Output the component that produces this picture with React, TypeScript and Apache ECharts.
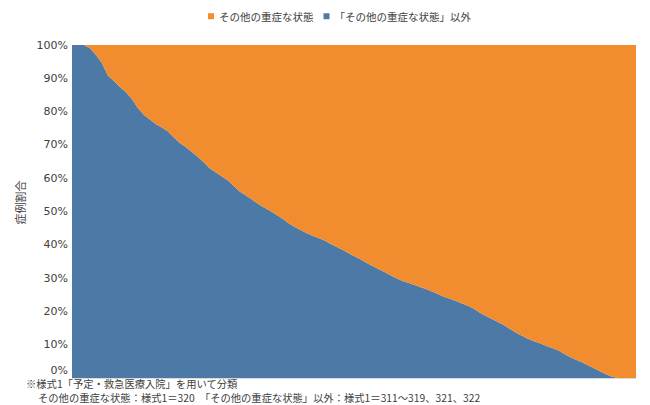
import { useEffect, useRef } from 'react';
import * as echarts from 'echarts';

// 病院ごとの「その他の重症な状態」以外の割合（%）、降順
const otherShare: number[] = [
  100, 100, 100, 99.0, 97.0, 94.5, 90.8, 89.2, 87.4, 85.8,
  83.8, 81.0, 79.0, 77.6, 76.2, 75.2, 74.0, 72.2, 70.6, 69.3,
  67.9, 66.4, 64.7, 62.9, 61.7, 60.5, 59.3, 57.6, 55.9, 54.8,
  53.6, 52.3, 51.2, 50.2, 49.1, 48.0, 46.6, 45.5, 44.5, 43.6,
  42.8, 42.1, 41.4, 40.4, 39.5, 38.6, 37.6, 36.6, 35.7, 34.7,
  33.7, 32.8, 31.9, 30.9, 30.0, 29.2, 28.6, 28.0, 27.3, 26.7,
  26.0, 25.2, 24.4, 23.8, 23.1, 22.4, 21.7, 20.8, 19.6, 18.6,
  17.7, 16.8, 15.9, 14.7, 13.6, 12.7, 11.8, 11.0, 10.4, 9.7,
  9.0, 8.3, 7.3, 6.3, 5.5, 4.7, 3.8, 2.9, 2.0, 1.1,
  0.4, 0, 0, 0, 0,
];

// 「その他の重症な状態」の割合（%）
const severeShare: number[] = otherShare.map(v => +(100 - v).toFixed(1));

const hospitals: string[] = otherShare.map((_, i) => String(i + 1));

const seriesNames = ['その他の重症な状態', '「その他の重症な状態」以外'];
const footnotes = [
  '※様式1「予定・救急医療入院」を用いて分類',
  'その他の重症な状態：様式1＝320　「その他の重症な状態」以外：様式1＝311～319、321、322',
];

const BLUE = '#4D79A7';
const ORANGE = '#F18D2F';
const TEXT = '#404040';
const JP = '"Noto Sans CJK JP", sans-serif';

const App: React.FC = () => {
  const chartRef = useRef<HTMLDivElement>(null);

  useEffect(() => {
    if (!chartRef.current) return;
    const chart = echarts.init(chartRef.current, undefined, { renderer: 'svg' });

    const option: echarts.EChartsOption = {
      animation: false,
      legend: {
        data: seriesNames,
        left: 203,
        top: 6,
        itemWidth: 6,
        itemHeight: 6,
        itemGap: 10,
        icon: 'rect',
        textStyle: { fontSize: 10.5, fontFamily: JP, color: TEXT },
      },
      grid: { left: 72, right: 14, top: 45, bottom: 27 },
      xAxis: {
        type: 'category',
        data: hospitals,
        boundaryGap: false,
        axisLine: { show: true, lineStyle: { color: '#d9d9d9' } },
        axisTick: { show: false },
        axisLabel: { show: false },
        splitLine: { show: false },
      },
      yAxis: {
        type: 'value',
        min: 0,
        max: 100,
        interval: 10,
        name: '症例割合',
        nameLocation: 'middle',
        nameGap: 40,
        nameTextStyle: { fontSize: 11, fontFamily: JP, color: TEXT, padding: [0, 0, 0, 18] },
        axisLine: { show: false },
        axisTick: { show: false },
        splitLine: { show: false },
        axisLabel: {
          fontSize: 11,
          fontFamily: '"DejaVu Sans", sans-serif',
          color: TEXT,
          margin: 4,
          formatter: (v: number) => (v === 0 ? '{low|0%}' : v + '%'),
          rich: {
            low: {
              fontSize: 11,
              fontFamily: '"DejaVu Sans", sans-serif',
              color: TEXT,
              padding: [0, 0, 16, 0],
            },
          },
        },
      },
      graphic: [
        {
          type: 'text',
          x: 26,
          y: 383,
          style: {
            text: footnotes[0],
            fontSize: 10.3,
            lineHeight: 12,
            fontFamily: JP,
            fill: TEXT,
            verticalAlign: 'middle',
          },
        },
        {
          type: 'text',
          x: 38,
          y: 397,
          style: {
            text: footnotes[1],
            fontSize: 10.3,
            lineHeight: 12,
            fontFamily: JP,
            fill: TEXT,
            verticalAlign: 'middle',
          },
        },
      ],
      series: [
        {
          name: seriesNames[1],
          type: 'line',
          stack: 'total',
          data: otherShare,
          symbol: 'none',
          lineStyle: { width: 0 },
          itemStyle: { color: BLUE },
          areaStyle: { color: BLUE, opacity: 1 },
        },
        {
          name: seriesNames[0],
          type: 'line',
          stack: 'total',
          data: severeShare,
          symbol: 'none',
          lineStyle: { width: 0 },
          itemStyle: { color: ORANGE },
          areaStyle: { color: ORANGE, opacity: 1 },
        },
      ],
    };

    chart.setOption(option);
    return () => {
      chart.dispose();
    };
  }, []);

  return (
    <div
      ref={chartRef}
      style={{ position: 'fixed', left: 0, top: 0, width: '650px', height: '405px', background: '#fff' }}
    />
  );
};

export default App;
